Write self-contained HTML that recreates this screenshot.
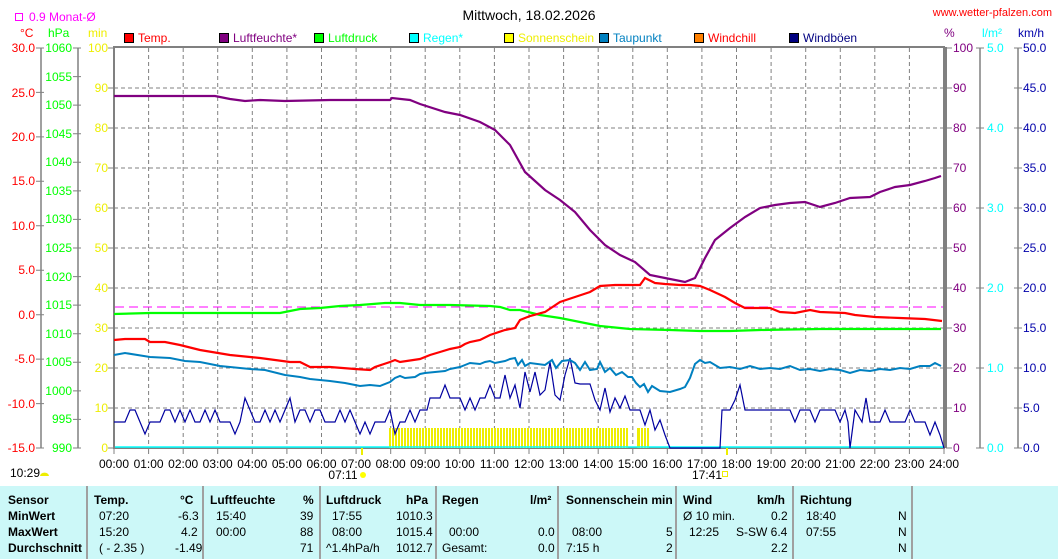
<!DOCTYPE html>
<html><head><meta charset="utf-8"><style>
body{margin:0;background:#fff;width:1058px;height:559px;overflow:hidden;font-family:"Liberation Sans",sans-serif}
svg text{font-family:"Liberation Sans",sans-serif;font-size:12px}
.tb{position:absolute;left:0;top:486px;width:1058px;height:73px;background:#ccf8f8}
.tb div{position:absolute;font-size:12px;white-space:nowrap}
.b{font-weight:bold}
.sep{position:absolute;top:0;width:2px;height:73px;background:#a0a0a0}
</style></head><body>
<svg width="1058" height="486" style="position:absolute;left:0;top:0">
<text x="529" y="20" text-anchor="middle" font-size="14" style="font-size:14px">Mittwoch, 18.02.2026</text>
<text x="1052" y="16" text-anchor="end" fill="#f00" style="font-size:11px">www.wetter-pfalzen.com</text>
<rect x="15.5" y="13.5" width="7" height="7" fill="none" stroke="#f0f"/>
<text x="29" y="21" fill="#f0f">0.9 Monat-Ø</text>
<text x="20" y="37" fill="#f00">°C</text><text x="48" y="37" fill="#0f0">hPa</text><text x="88" y="37" fill="#ee0">min</text>
<text x="944" y="37" fill="#800080">%</text><text x="982" y="37" fill="#0ff">l/m²</text><text x="1018" y="37" fill="#00a">km/h</text>
<g>
<rect x="124.5" y="33.5" width="9" height="9" fill="#f00" stroke="#000"/><text x="138" y="42" fill="#f00">Temp.</text>
<rect x="219.5" y="33.5" width="9" height="9" fill="#800080" stroke="#000"/><text x="233" y="42" fill="#800080">Luftfeuchte*</text>
<rect x="314.5" y="33.5" width="9" height="9" fill="#0f0" stroke="#000"/><text x="328" y="42" fill="#0f0">Luftdruck</text>
<rect x="409.5" y="33.5" width="9" height="9" fill="#0ff" stroke="#000"/><text x="423" y="42" fill="#0ff">Regen*</text>
<rect x="504.5" y="33.5" width="9" height="9" fill="#ff0" stroke="#000"/><text x="518" y="42" fill="#ee0">Sonnenschein</text>
<rect x="599.5" y="33.5" width="9" height="9" fill="#0080c0" stroke="#000"/><text x="613" y="42" fill="#0080c0">Taupunkt</text>
<rect x="694.5" y="33.5" width="9" height="9" fill="#ff8000" stroke="#000"/><text x="708" y="42" fill="#f00">Windchill</text>
<rect x="789.5" y="33.5" width="9" height="9" fill="#000080" stroke="#000"/><text x="803" y="42" fill="#000080">Windböen</text>
</g>
<!-- grid -->
<g stroke="#808080" stroke-dasharray="4,3" stroke-width="1">
<path d="M114 88H944M114 128H944M114 168H944M114 208H944M114 248H944M114 288H944M114 328H944M114 368H944M114 408H944"/>
<path d="M148.6 48V448M183.2 48V448M217.7 48V448M252.3 48V448M286.9 48V448M321.5 48V448M356.1 48V448M390.7 48V448M425.2 48V448M459.8 48V448M494.4 48V448M529 48V448M563.6 48V448M598.2 48V448M632.8 48V448M667.3 48V448M701.9 48V448M736.5 48V448M771.1 48V448M805.7 48V448M840.3 48V448M874.8 48V448M909.4 48V448"/>
</g>
<!-- axes -->
<g stroke="#808080" fill="none">
<rect x="114" y="47" width="830" height="401" stroke-width="2"/>
<path d="M946 47V448" stroke-width="2"/>
<path d="M41 48V448M78 48V448M980 48V448M1018 48V448" stroke-width="1.5"/>
</g>
<g stroke="#808080">
<path d="M36 48h8M36 92.4h8M36 136.9h8M36 181.3h8M36 225.8h8M36 270.2h8M36 314.7h8M36 359.1h8M36 403.6h8M36 448h8"/>
<path d="M73 48h8M73 76.6h8M73 105.1h8M73 133.7h8M73 162.3h8M73 190.9h8M73 219.4h8M73 248h8M73 276.6h8M73 305.1h8M73 333.7h8M73 362.3h8M73 390.9h8M73 419.4h8M73 448h8"/>
<path d="M108 48h6M108 88h6M108 128h6M108 168h6M108 208h6M108 248h6M108 288h6M108 328h6M108 368h6M108 408h6M108 448h6"/>
<path d="M946 48h6M946 88h6M946 128h6M946 168h6M946 208h6M946 248h6M946 288h6M946 328h6M946 368h6M946 408h6M946 448h6"/>
<path d="M976 48h8M976 128h8M976 208h8M976 288h8M976 368h8M976 448h8"/>
<path d="M1014 48h8M1014 88h8M1014 128h8M1014 168h8M1014 208h8M1014 248h8M1014 288h8M1014 328h8M1014 368h8M1014 408h8M1014 448h8"/>
<path d="M114 448v6M148.6 448v6M183.2 448v6M217.7 448v6M252.3 448v6M286.9 448v6M321.5 448v6M356.1 448v6M390.7 448v6M425.2 448v6M459.8 448v6M494.4 448v6M529 448v6M563.6 448v6M598.2 448v6M632.8 448v6M667.3 448v6M701.9 448v6M736.5 448v6M771.1 448v6M805.7 448v6M840.3 448v6M874.8 448v6M909.4 448v6M944 448v6"/>
</g>
<g fill="#f00" text-anchor="end">
<text x="35" y="52">30.0</text><text x="35" y="97">25.0</text><text x="35" y="141">20.0</text><text x="35" y="185">15.0</text><text x="35" y="230">10.0</text><text x="35" y="274">5.0</text><text x="35" y="319">0.0</text><text x="35" y="363">-5.0</text><text x="35" y="408">-10.0</text><text x="35" y="452">-15.0</text>
</g>
<g fill="#0f0" text-anchor="end">
<text x="72" y="52">1060</text><text x="72" y="81">1055</text><text x="72" y="109">1050</text><text x="72" y="138">1045</text><text x="72" y="166">1040</text><text x="72" y="195">1035</text><text x="72" y="223">1030</text><text x="72" y="252">1025</text><text x="72" y="281">1020</text><text x="72" y="309">1015</text><text x="72" y="338">1010</text><text x="72" y="366">1005</text><text x="72" y="395">1000</text><text x="72" y="423">995</text><text x="72" y="452">990</text>
</g>
<g fill="#ee0" text-anchor="end">
<text x="108" y="52">100</text><text x="108" y="92">90</text><text x="108" y="132">80</text><text x="108" y="172">70</text><text x="108" y="212">60</text><text x="108" y="252">50</text><text x="108" y="292">40</text><text x="108" y="332">30</text><text x="108" y="372">20</text><text x="108" y="412">10</text><text x="108" y="452">0</text>
</g>
<g fill="#800080">
<text x="953" y="52">100</text><text x="953" y="92">90</text><text x="953" y="132">80</text><text x="953" y="172">70</text><text x="953" y="212">60</text><text x="953" y="252">50</text><text x="953" y="292">40</text><text x="953" y="332">30</text><text x="953" y="372">20</text><text x="953" y="412">10</text><text x="953" y="452">0</text>
</g>
<g fill="#0ff">
<text x="987" y="52">5.0</text><text x="987" y="132">4.0</text><text x="987" y="212">3.0</text><text x="987" y="292">2.0</text><text x="987" y="372">1.0</text><text x="987" y="452">0.0</text>
</g>
<g fill="#00a">
<text x="1023" y="52">50.0</text><text x="1023" y="92">45.0</text><text x="1023" y="132">40.0</text><text x="1023" y="172">35.0</text><text x="1023" y="212">30.0</text><text x="1023" y="252">25.0</text><text x="1023" y="292">20.0</text><text x="1023" y="332">15.0</text><text x="1023" y="372">10.0</text><text x="1023" y="412">5.0</text><text x="1023" y="452">0.0</text>
</g>
<g text-anchor="middle">
<text x="114" y="468">00:00</text><text x="148.6" y="468">01:00</text><text x="183.2" y="468">02:00</text><text x="217.7" y="468">03:00</text><text x="252.3" y="468">04:00</text><text x="286.9" y="468">05:00</text><text x="321.5" y="468">06:00</text><text x="356.1" y="468">07:00</text><text x="390.7" y="468">08:00</text><text x="425.2" y="468">09:00</text><text x="459.8" y="468">10:00</text><text x="494.4" y="468">11:00</text><text x="529" y="468">12:00</text><text x="563.6" y="468">13:00</text><text x="598.2" y="468">14:00</text><text x="632.8" y="468">15:00</text><text x="667.3" y="468">16:00</text><text x="701.9" y="468">17:00</text><text x="736.5" y="468">18:00</text><text x="771.1" y="468">19:00</text><text x="805.7" y="468">20:00</text><text x="840.3" y="468">21:00</text><text x="874.8" y="468">22:00</text><text x="909.4" y="468">23:00</text><text x="944" y="468">24:00</text>
<text x="343" y="479">07:11</text><text x="707" y="479">17:41</text>
</g>
<text x="10" y="477">10:29</text>
<path d="M40 476a4 3 0 0 1 9 0z" fill="#ee0"/>
<circle cx="363" cy="475" r="3" fill="#ff0"/>
<rect x="722.5" y="471.5" width="5" height="5" fill="none" stroke="#ee0"/>
<rect x="361" y="448" width="2" height="7" fill="#ee0"/><rect x="726" y="448" width="2" height="7" fill="#ee0"/>
<!-- sunshine -->
<g fill="#ee0"><rect x="389" y="428" width="239" height="20"/><rect x="637" y="428" width="12" height="20"/></g>
<g fill="#fff"><path id="st" d=""/></g>
<g stroke="#fff" stroke-width="1" fill="none" stroke-dasharray="0">
<path d="M391.5 428V448M394.5 428V448M397.5 428V448M400.5 428V448M403.5 428V448M406.5 428V448M409.5 428V448M412.5 428V448M415.5 428V448M418.5 428V448M421.5 428V448M424.5 428V448M427.5 428V448M430.5 428V448M433.5 428V448M436.5 428V448M439.5 428V448M442.5 428V448M445.5 428V448M448.5 428V448M451.5 428V448M454.5 428V448M457.5 428V448M460.5 428V448M463.5 428V448M466.5 428V448M469.5 428V448M472.5 428V448M475.5 428V448M478.5 428V448M481.5 428V448M484.5 428V448M487.5 428V448M490.5 428V448M493.5 428V448M496.5 428V448M499.5 428V448M502.5 428V448M505.5 428V448M508.5 428V448M511.5 428V448M514.5 428V448M517.5 428V448M520.5 428V448M523.5 428V448M526.5 428V448M529.5 428V448M532.5 428V448M535.5 428V448M538.5 428V448M541.5 428V448M544.5 428V448M547.5 428V448M550.5 428V448M553.5 428V448M556.5 428V448M559.5 428V448M562.5 428V448M565.5 428V448M568.5 428V448M571.5 428V448M574.5 428V448M577.5 428V448M580.5 428V448M583.5 428V448M586.5 428V448M589.5 428V448M592.5 428V448M595.5 428V448M598.5 428V448M601.5 428V448M604.5 428V448M607.5 428V448M610.5 428V448M613.5 428V448M616.5 428V448M619.5 428V448M622.5 428V448M625.5 428V448M640.5 428V448M643.5 428V448M646.5 428V448"/>
</g>
<path d="M115 447H943" stroke="#0ff" stroke-width="1.5"/>
<path d="M115 307H943" stroke="#f0f" stroke-dasharray="9,5"/>
<!-- wind -->
<polyline fill="none" stroke="#0000a0" stroke-width="1.2" points="114,422 125,422 130,410 135,410 140,422 145,434 150,422 160,422 165,410 170,410 175,422 180,410 185,422 190,410 195,422 200,422 205,410 210,422 215,410 220,422 230,422 235,434 240,422 245,398 250,410 255,422 260,422 265,410 270,422 275,410 280,422 285,410 290,398 295,422 300,410 305,410 310,422 315,410 320,410 325,422 335,422 340,410 345,422 350,410 355,422 360,434 365,422 370,434 375,422 385,422 390,410 395,434 400,422 405,422 410,410 415,422 420,410 427,410 430,398 440,398 445,385 450,398 460,398 465,410 470,398 475,410 480,398 485,398 490,385 495,398 500,398 505,375 510,398 515,385 520,408 525,372 530,392 535,372 540,395 545,390 550,362 555,395 560,400 565,375 570,358 575,383 580,384 590,384 595,400 600,410 605,388 610,412 615,398 620,408 625,396 630,410 640,410 645,425 650,410 655,430 660,420 665,435 670,448 690,448 720,448 722,410 730,410 735,400 740,385 745,410 760,410 790,410 795,422 800,410 810,410 815,422 820,410 835,410 840,422 845,410 848,422 850,448 855,410 862,422 866,398 870,422 880,422 885,410 890,422 905,422 910,410 915,422 925,422 930,435 935,422 940,435 944,448"/>
<!-- dewpoint -->
<polyline fill="none" stroke="#0080c0" stroke-width="2" points="114,355 125,353 150,357 170,358 185,361 200,362 220,366 250,369 265,370 285,375 300,377 310,379 330,381 345,383 360,386 370,385 380,386 390,382 395,378 400,376 405,378 415,377 420,374 425,373 445,371 450,369 460,367 465,365 470,363 480,364 485,362 490,361 495,363 505,361 510,359 515,358 518,365 522,360 525,366 530,363 545,365 552,360 556,368 562,361 570,360 575,363 580,370 585,362 590,370 597,369 600,362 605,372 610,368 616,375 622,372 628,377 632,377 636,383 640,387 644,384 648,392 652,386 660,391 670,392 680,389 685,387 690,378 695,364 700,360 705,363 710,362 720,368 730,367 740,369 750,366 760,369 770,368 780,369 790,366 800,370 810,369 820,371 830,369 840,370 850,373 860,370 870,371 880,369 890,370 900,368 910,369 920,366 930,366 935,363 941,366"/>
<!-- pressure -->
<polyline fill="none" stroke="#0f0" stroke-width="2.2" points="114,314 150,313 200,313 240,313 280,313 290,311 300,309 320,308 340,306 360,305 385,303 400,303 420,305 450,305 490,306 500,307 510,310 520,310 540,315 560,318 580,322 600,326 630,329 670,330 700,331 730,331 760,330 820,329 880,329 941,329"/>
<!-- temp -->
<polyline fill="none" stroke="#f00" stroke-width="2.2" points="114,340 125,339 145,339 150,342 165,342 180,345 200,350 230,355 260,358 290,362 300,362 310,367 330,367 355,369 370,370 375,367 390,362 395,360 400,362 420,359 430,355 440,352 450,349 460,347 465,344 470,342 480,340 490,335 505,330 515,328 520,320 530,316 545,312 560,302 575,297 590,292 600,286 615,285 630,285 640,285 645,278 655,283 665,284 680,285 690,285 700,286 710,290 725,297 735,303 745,308 770,308 780,312 795,313 810,310 820,312 845,313 855,315 875,317 900,318 925,319 942,321"/>
<!-- humidity -->
<polyline fill="none" stroke="#800080" stroke-width="2.2" points="114,96 215,96 230,99 245,101 260,100 285,101 330,100 390,100 392,98 410,100 420,104 445,112 460,115 480,122 495,130 510,145 525,172 545,190 560,200 575,212 590,230 605,245 620,255 635,262 650,275 665,278 685,282 695,278 705,258 715,240 730,228 745,217 760,208 775,205 790,203 805,202 820,207 835,203 850,198 870,197 880,192 895,187 910,185 925,181 935,178 941,176"/>
</svg>
<div class="tb">
<div class="sep" style="left:86px"></div><div class="sep" style="left:202px"></div><div class="sep" style="left:319px"></div><div class="sep" style="left:435px"></div><div class="sep" style="left:557px"></div><div class="sep" style="left:675px"></div><div class="sep" style="left:792px"></div><div class="sep" style="left:911px"></div>
<div class="b" style="left:8px;top:7px">Sensor</div><div class="b" style="left:8px;top:23px">MinWert</div><div class="b" style="left:8px;top:39px">MaxWert</div><div class="b" style="left:8px;top:55px">Durchschnitt</div>
<div class="b" style="left:94px;top:7px">Temp.</div><div class="b" style="left:180px;top:7px">°C</div>
<div style="left:99px;top:23px">07:20</div><div style="left:178px;top:23px">-6.3</div>
<div style="left:99px;top:39px">15:20</div><div style="left:181px;top:39px">4.2</div>
<div style="left:99px;top:55px">( - 2.35 )</div><div style="left:175px;top:55px">-1.49</div>
<div class="b" style="left:210px;top:7px">Luftfeuchte</div><div class="b" style="left:303px;top:7px">%</div>
<div style="left:216px;top:23px">15:40</div><div style="left:300px;top:23px">39</div>
<div style="left:216px;top:39px">00:00</div><div style="left:300px;top:39px">88</div>
<div style="left:300px;top:55px">71</div>
<div class="b" style="left:326px;top:7px">Luftdruck</div><div class="b" style="left:406px;top:7px">hPa</div>
<div style="left:332px;top:23px">17:55</div><div style="left:396px;top:23px">1010.3</div>
<div style="left:332px;top:39px">08:00</div><div style="left:396px;top:39px">1015.4</div>
<div style="left:326px;top:55px">^1.4hPa/h</div><div style="left:396px;top:55px">1012.7</div>
<div class="b" style="left:442px;top:7px">Regen</div><div class="b" style="left:530px;top:7px">l/m²</div>
<div style="left:449px;top:39px">00:00</div><div style="left:538px;top:39px">0.0</div>
<div style="left:442px;top:55px">Gesamt:</div><div style="left:538px;top:55px">0.0</div>
<div class="b" style="left:566px;top:7px">Sonnenschein min</div>
<div style="left:572px;top:39px">08:00</div><div style="left:666px;top:39px">5</div>
<div style="left:566px;top:55px">7:15 h</div><div style="left:666px;top:55px">2</div>
<div class="b" style="left:683px;top:7px">Wind</div><div class="b" style="left:757px;top:7px">km/h</div>
<div style="left:683px;top:23px">Ø 10 min.</div><div style="left:771px;top:23px">0.2</div>
<div style="left:689px;top:39px">12:25</div><div style="left:736px;top:39px">S-SW 6.4</div>
<div style="left:771px;top:55px">2.2</div>
<div class="b" style="left:800px;top:7px">Richtung</div>
<div style="left:806px;top:23px">18:40</div><div style="left:898px;top:23px">N</div>
<div style="left:806px;top:39px">07:55</div><div style="left:898px;top:39px">N</div>
<div style="left:898px;top:55px">N</div>
</div>
</body></html>
